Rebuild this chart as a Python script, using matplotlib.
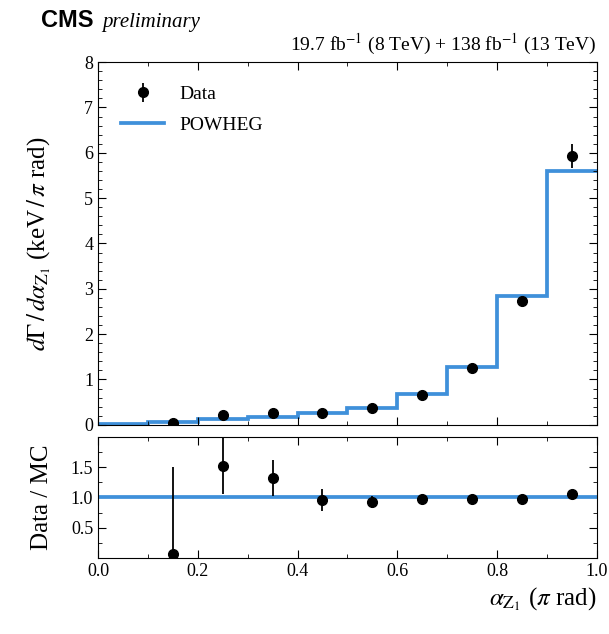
#!/usr/bin/env python3

import numpy as np
import matplotlib
matplotlib.use('Agg')
import matplotlib.pyplot as plt
from matplotlib.ticker import MultipleLocator

# binning in alpha_Z1 (pi rad)
edges = [0.0, 0.1, 0.2, 0.3, 0.4, 0.5, 0.6, 0.7, 0.8, 0.9, 1.0]
powheg = [0.02, 0.07, 0.13, 0.18, 0.26, 0.37, 0.68, 1.28, 2.83, 5.59]

data_x = [0.15, 0.25, 0.35, 0.45, 0.55, 0.65, 0.75, 0.85, 0.95]
data_y = [0.03, 0.21, 0.25, 0.26, 0.38, 0.66, 1.25, 2.72, 5.93]
data_err = [0.05, 0.06, 0.05, 0.05, 0.04, 0.06, 0.07, 0.10, 0.27]

ratio = [0.07, 1.52, 1.32, 0.96, 0.93, 0.97, 0.98, 0.97, 1.06]
ratio_lo = [0.07, 0.47, 0.30, 0.18, 0.10, 0.04, 0.04, 0.04, 0.05]
ratio_hi = [1.43, 0.55, 0.29, 0.18, 0.10, 0.04, 0.04, 0.04, 0.05]

blue = '#3f90da'

plt.rcParams['font.family'] = ['Liberation Serif', 'DejaVu Serif']
plt.rcParams['mathtext.fontset'] = 'stix'
plt.rcParams['font.size'] = 13

fig = plt.figure(figsize=(6.09, 6.34), dpi=100)
ax = fig.add_axes([0.161, 0.330, 0.819, 0.572])
rax = fig.add_axes([0.161, 0.120, 0.819, 0.191])

# main panel
ax.stairs(powheg, edges, color=blue, lw=2.7, baseline=None, label='POWHEG')
ax.errorbar(data_x, data_y, yerr=data_err, fmt='o', color='black', ms=7,
            elinewidth=1.3, capsize=0, label='Data')
ax.set_xlim(0, 1)
ax.set_ylim(0, 8)
ax.set_xticklabels([])
ax.yaxis.set_major_locator(MultipleLocator(1))
ax.yaxis.set_minor_locator(MultipleLocator(0.2))
ax.xaxis.set_major_locator(MultipleLocator(0.2))
ax.xaxis.set_minor_locator(MultipleLocator(0.1))
ax.set_ylabel(r'$d\Gamma\,/\,d\alpha_{\mathrm{Z}_1}$ (keV$\,/\,\pi$ rad)', fontsize=18)
h, l = ax.get_legend_handles_labels()
ax.legend(h[::-1], l[::-1], loc='upper left', frameon=False, fontsize=14,
          handlelength=2.2, borderaxespad=0.8, labelspacing=0.7)

# ratio panel
rax.axhline(1.0, color=blue, lw=2.7)
rax.errorbar(data_x, ratio, yerr=[ratio_lo, ratio_hi], fmt='o', color='black',
             ms=7, elinewidth=1.3, capsize=0)
rax.set_xlim(0, 1)
rax.set_ylim(0, 2)
rax.set_yticks([0.5, 1.0, 1.5])
rax.yaxis.set_minor_locator(MultipleLocator(0.25))
rax.xaxis.set_major_locator(MultipleLocator(0.2))
rax.xaxis.set_minor_locator(MultipleLocator(0.1))
rax.set_ylabel('Data / MC', fontsize=18)
rax.set_xlabel(r'$\alpha_{\mathrm{Z}_1}$ ($\pi$ rad)', fontsize=18, loc='right')

for a in (ax, rax):
    a.tick_params(which='both', direction='in', top=True, right=True, labelsize=13)
    a.tick_params(which='major', length=6)
    a.tick_params(which='minor', length=3)

ax.yaxis.set_label_coords(-0.09, 0.5)
rax.yaxis.set_label_coords(-0.09, 0.5)

fig.text(0.068, 0.958, 'CMS', family='Liberation Sans', weight='bold', fontsize=17)
fig.text(0.168, 0.958, 'preliminary', style='italic', fontsize=15)
ax.text(1.0, 1.015, r'19.7 fb$^{-1}$ (8 TeV) + 138 fb$^{-1}$ (13 TeV)',
        transform=ax.transAxes, ha='right', va='bottom', fontsize=14)

plt.savefig('out.png', dpi=100)
